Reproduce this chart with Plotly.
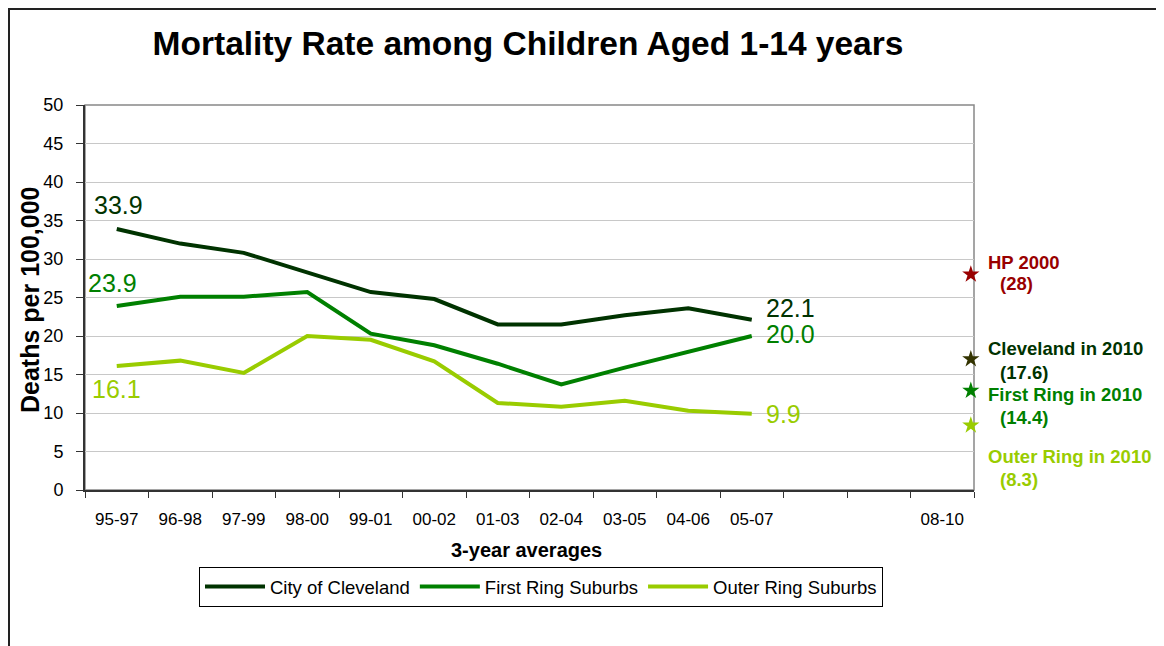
import plotly.graph_objects as go

# ---- data ----
periods = ["95-97", "96-98", "97-99", "98-00", "99-01", "00-02", "01-03",
           "02-04", "03-05", "04-06", "05-07", "", "", "08-10"]
cleveland = [33.9, 32.0, 30.8, 28.2, 25.7, 24.8, 21.5, 21.5, 22.7, 23.6, 22.1]
first_ring = [23.9, 25.1, 25.1, 25.7, 20.3, 18.8, 16.4, 13.7, 15.9, 18.0, 20.0]
outer_ring = [16.1, 16.8, 15.2, 20.0, 19.5, 16.7, 11.3, 10.8, 11.6, 10.3, 9.9]

# 2010 targets (star markers at the right edge of the plot)
target_names = ["HP 2000", "Cleveland in 2010", "First Ring in 2010", "Outer Ring in 2010"]
target_labels = ["(28)", "(17.6)", "(14.4)", "(8.3)"]
target_pos = [28.0, 17.0, 12.9, 8.4]

C_DARK = "#003300"
C_MID = "#008000"
C_LIGHT = "#99CC00"
C_RED = "#990000"
FONT = "Arial, Liberation Sans, sans-serif"

# page body has an 8px margin -> work in window pixels, convert to figure pixels
OFF = 8
WIN_W, WIN_H = 1164, 646
W, H = WIN_W - OFF, WIN_H - OFF
# plot area in window pixels
L, R, T, B = 85, 974, 105, 490


def px_x(px):
    return (px - L) / (R - L)


def px_y(py):
    return (B - py) / (B - T)


idx = list(range(len(periods)))

fig = go.Figure()
for name, vals, col in [("City of Cleveland", cleveland, C_DARK),
                        ("First Ring Suburbs", first_ring, C_MID),
                        ("Outer Ring Suburbs", outer_ring, C_LIGHT)]:
    fig.add_trace(go.Scatter(
        x=idx[:len(vals)], y=vals, name=name, mode="lines",
        line=dict(color=col, width=4),
    ))

star_cols = [C_RED, "#333300", C_MID, C_LIGHT]
fig.add_trace(go.Scatter(
    x=[len(periods) - 0.55] * len(target_pos), y=target_pos, mode="markers",
    marker=dict(symbol="star", size=13, color=star_cols),
    showlegend=False, cliponaxis=False, hoverinfo="skip",
))

# plot-area border (gray top / right)
fig.add_shape(type="rect", xref="paper", yref="paper", x0=0, x1=1, y0=0, y1=1,
              line=dict(color="#888888", width=1.5), layer="below")
# outer chart frame (left + top edges, as close to the page corner as the figure allows)
fig.add_shape(type="rect", xref="paper", yref="paper",
              x0=px_x(OFF + 1), x1=px_x(WIN_W + 20), y0=px_y(WIN_H + 20), y1=px_y(OFF + 1),
              line=dict(color="#222222", width=2))

ann = []
# data labels
last = len(cleveland) - 1
ann += [
    dict(x=0, y=cleveland[0], text=f"{cleveland[0]:.1f}", font=dict(color=C_DARK, size=25),
         yanchor="bottom", yshift=8, xshift=2),
    dict(x=0, y=first_ring[0], text=f"{first_ring[0]:.1f}", font=dict(color=C_MID, size=25),
         yanchor="bottom", yshift=7, xshift=-4),
    dict(x=0, y=outer_ring[0], text=f"{outer_ring[0]:.1f}", font=dict(color=C_LIGHT, size=25),
         yanchor="top", yshift=-7),
    dict(x=last, y=cleveland[last], text=f"{cleveland[last]:.1f}", font=dict(color=C_DARK, size=25),
         xanchor="left", xshift=12, yshift=12),
    dict(x=last, y=first_ring[last], text=f"{first_ring[last]:.1f}", font=dict(color=C_MID, size=25),
         xanchor="left", xshift=12, yshift=2),
    dict(x=last, y=outer_ring[last], text=f"{outer_ring[last]:.1f}", font=dict(color=C_LIGHT, size=25),
         xanchor="left", xshift=12),
]
for a in ann:
    a.update(xref="x", yref="y", showarrow=False, font=dict(family=FONT, **a["font"]))

# right-side target labels
name_y = [262, 348, 394, 456]
lab_y = [283, 372, 417, 479]
for nm, lb, ny, ly, col in zip(target_names, target_labels, name_y, lab_y,
                               [C_RED, C_DARK, C_MID, C_LIGHT]):
    ann.append(dict(xref="paper", yref="paper", x=px_x(986), y=px_y(ny), text=f"<b>{nm}</b>",
                    xanchor="left", yanchor="middle", showarrow=False,
                    font=dict(family=FONT, size=18.5, color=col)))
    ann.append(dict(xref="paper", yref="paper", x=px_x(998), y=px_y(ly), text=f"<b>{lb}</b>",
                    xanchor="left", yanchor="middle", showarrow=False,
                    font=dict(family=FONT, size=18.5, color=col)))

# axis titles
ann.append(dict(xref="paper", yref="paper", x=px_x(30), y=px_y(300), text="<b>Deaths per 100,000</b>",
                xanchor="center", yanchor="middle", textangle=-90, showarrow=False,
                font=dict(family=FONT, size=25, color="black")))
ann.append(dict(xref="paper", yref="paper", x=px_x(526), y=px_y(550), text="<b>3-year averages</b>",
                xanchor="center", yanchor="middle", showarrow=False,
                font=dict(family=FONT, size=20, color="black")))

fig.update_layout(
    width=W, height=H,
    margin=dict(l=L - OFF, r=WIN_W - R, t=T - OFF, b=WIN_H - B),
    paper_bgcolor="white", plot_bgcolor="white",
    font=dict(family=FONT, color="black"),
    title=dict(text="<b>Mortality Rate among Children Aged 1-14 years</b>",
               x=(528 - OFF) / W, xanchor="center", y=1 - (43 - OFF) / H, yanchor="middle",
               font=dict(size=33.5, color="black")),
    showlegend=True,
    legend=dict(orientation="h", x=px_x(541), xanchor="center", y=px_y(587), yanchor="middle",
                bordercolor="black", borderwidth=1, font=dict(size=18.5, color="black"),
                itemwidth=60, tracegroupgap=0),
    annotations=ann,
)

fig.update_xaxes(
    range=[-0.5, len(periods) - 0.5], tickvals=idx, ticktext=periods, ticks="",
    tickfont=dict(size=17, color="black"), showgrid=False, zeroline=False,
    showline=True, linecolor="#333333", linewidth=2, ticklabelstandoff=13,
    minor=dict(tickvals=[i - 0.5 for i in range(len(periods) + 1)], ticks="outside",
               ticklen=6, tickcolor="#333333", showgrid=False),
)
fig.update_yaxes(
    range=[0, 50], dtick=5, ticks="outside", ticklen=7, tickcolor="#333333",
    tickfont=dict(size=18, color="black"), showgrid=True, gridcolor="#C8C8C8",
    zeroline=False, showline=True, linecolor="#333333", linewidth=2, ticklabelstandoff=9,
)

fig.write_html("out.html")
